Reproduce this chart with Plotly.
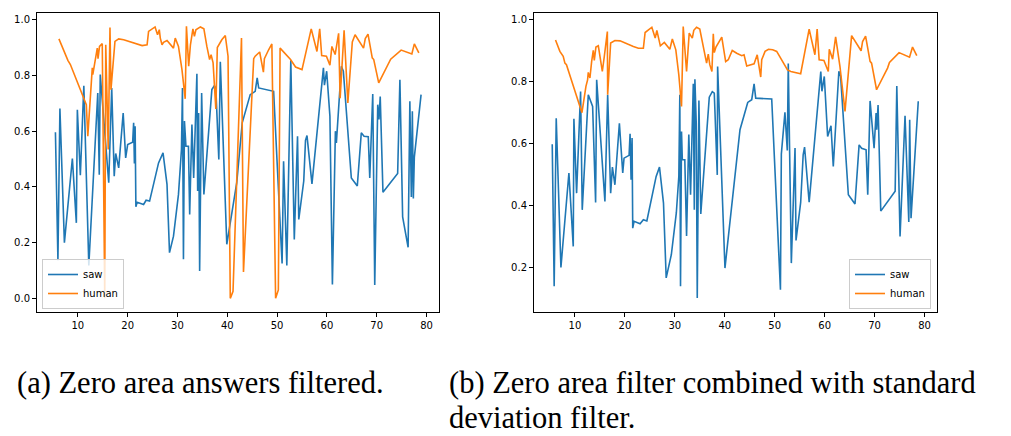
import plotly.graph_objects as go

# ---------------- data: (a) zero area answers filtered ----------------
saw_a_x = [5.5, 6.0, 6.4, 7.3, 8.9, 9.7, 9.9, 10.3, 10.5, 11.2,
           12.2, 14.0, 14.3, 14.5, 16.2, 16.8, 17.3, 17.6, 18.2, 19.1,
           19.6, 20.0, 21.0, 21.2, 21.35, 21.5, 21.65, 21.9, 23.2, 23.7,
           24.4, 26.2, 27.1, 27.9, 28.4, 29.2, 30.2, 30.8, 31.0, 31.2,
           31.4, 31.7, 32.2, 32.45, 32.9, 33.25, 33.9, 34.05, 34.25, 34.45,
           34.85, 35.3, 36.9, 37.4, 37.7, 38.3, 38.6, 39.9, 41.9, 43.0,
           44.6, 45.6, 46.0, 46.3, 49.3, 51.0, 51.3, 51.95, 52.75, 53.45,
           54.1, 54.35, 55.35, 55.7, 56.0, 57.0, 59.3, 59.5, 59.95, 60.6,
           61.1, 61.7, 61.9, 62.9, 63.3, 64.9, 66.1, 66.9, 67.45, 68.3,
           68.6, 69.2, 69.6, 70.2, 70.45, 70.7, 71.25, 74.2, 74.65, 75.2,
           76.3, 76.65, 76.95, 77.15, 77.35, 77.55, 78.9]
saw_a_y = [0.596, 0.137, 0.681, 0.200, 0.502, 0.271, 0.677, 0.520, 0.442, 0.763,
           0.118, 0.737, 0.444, 0.803, 0.415, 0.755, 0.438, 0.520, 0.468, 0.665,
           0.504, 0.552, 0.560, 0.630, 0.484, 0.618, 0.329, 0.345, 0.337, 0.352,
           0.349, 0.486, 0.522, 0.409, 0.164, 0.223, 0.373, 0.534, 0.755, 0.140,
           0.636, 0.546, 0.546, 0.301, 0.624, 0.432, 0.806, 0.385, 0.665, 0.098,
           0.737, 0.373, 0.749, 0.763, 0.755, 0.498, 0.849, 0.194, 0.415, 0.630,
           0.731, 0.743, 0.791, 0.755, 0.743, 0.125, 0.492, 0.118, 0.854, 0.211,
           0.582, 0.283, 0.421, 0.567, 0.584, 0.411, 0.827, 0.765, 0.815, 0.654,
           0.050, 0.600, 0.558, 0.833, 0.815, 0.432, 0.403, 0.594, 0.582, 0.580,
           0.432, 0.733, 0.048, 0.695, 0.642, 0.724, 0.381, 0.448, 0.784, 0.292,
           0.183, 0.707, 0.364, 0.671, 0.358, 0.507, 0.731]

human_a_x = [6.2, 7.2, 8.0, 8.5, 11.2, 11.7, 12.0, 12.9, 13.0, 13.55,
             13.9, 14.05, 14.35, 14.9, 15.4, 15.6, 16.1, 16.45, 16.65, 17.45,
             18.2, 19.2, 22.9, 23.9, 24.2, 25.5, 26.0, 26.35, 26.55, 26.9,
             27.2, 27.9, 28.6, 29.2, 29.55, 30.2, 30.9, 31.55, 31.8, 32.25,
             32.6, 33.1, 33.4, 33.7, 34.6, 35.3, 35.9, 36.45, 36.75, 37.15,
             37.7, 38.0, 38.9, 39.6, 40.15, 40.6, 41.15, 42.85, 43.25, 45.3,
             45.6, 46.5, 47.25, 47.45, 48.3, 48.95, 49.7, 50.25, 50.6, 52.7,
             53.7, 55.0, 56.85, 58.0, 58.55, 58.95, 59.9, 60.6, 61.0, 61.65,
             62.35, 62.65, 63.45, 64.2, 65.1, 65.65, 67.35, 67.7, 68.25, 69.1,
             69.4, 70.4, 72.8, 74.9, 77.05, 77.55, 78.45]
human_a_y = [0.931, 0.886, 0.854, 0.839, 0.713, 0.695, 0.582, 0.827, 0.803, 0.869,
             0.898, 0.860, 0.904, 0.914, 0.000, 0.910, 0.534, 0.972, 0.749, 0.922,
             0.931, 0.928, 0.907, 0.910, 0.958, 0.974, 0.946, 0.964, 0.934, 0.910,
             0.919, 0.925, 0.910, 0.898, 0.934, 0.904, 0.821, 0.716, 0.976, 0.833,
             0.910, 0.967, 0.940, 0.964, 0.974, 0.967, 0.904, 0.857, 0.874, 0.845,
             0.680, 0.900, 0.928, 0.943, 0.869, 0.000, 0.025, 0.934, 0.095, 0.860,
             0.869, 0.884, 0.812, 0.860, 0.892, 0.913, 0.000, 0.030, 0.898, 0.857,
             0.830, 0.821, 0.967, 0.886, 0.967, 0.871, 0.869, 0.837, 0.904, 0.875,
             0.951, 0.718, 0.962, 0.701, 0.920, 0.946, 0.898, 0.932, 0.948, 0.863,
             0.857, 0.773, 0.858, 0.891, 0.877, 0.913, 0.881]

# ------- data: (b) zero area filter + standard deviation filter -------
saw_b_x = [5.45, 5.84, 6.25, 7.19, 8.79, 9.66, 9.79, 10.12, 10.33, 11.13,
           11.46, 12.67, 13.54, 14.14, 14.35, 16.0, 16.55, 17.15, 17.5, 18.0,
           18.9, 19.57, 19.83, 20.84, 21.04, 21.24, 21.44, 21.57, 21.84, 23.04,
           23.7, 24.4, 26.26, 26.93, 27.73, 28.27, 29.3, 30.3, 30.8, 31.0,
           31.14, 31.34, 31.5, 32.0, 32.35, 32.8, 33.15, 33.7, 33.9, 34.02,
           34.29, 34.49, 34.82, 35.2, 36.9, 37.5, 37.9, 38.5, 38.57, 40.04,
           43.05, 44.6, 45.4, 45.87, 46.2, 49.4, 51.15, 51.33, 52.05, 52.52,
           52.72, 53.33, 54.07, 54.27, 55.2, 55.7, 55.98, 56.9, 59.23, 59.46,
           59.93, 60.6, 61.27, 61.73, 62.85, 63.2, 64.75, 66.08, 66.9, 67.4,
           68.3, 68.63, 69.1, 69.9, 70.3, 70.43, 70.7, 71.24, 74.12, 74.45,
           75.1, 76.1, 76.85, 77.03, 77.3, 78.75]
saw_b_y = [0.598, 0.139, 0.682, 0.200, 0.505, 0.268, 0.680, 0.524, 0.440, 0.768,
           0.386, 0.758, 0.720, 0.410, 0.806, 0.413, 0.758, 0.440, 0.524, 0.467,
           0.666, 0.505, 0.553, 0.562, 0.632, 0.483, 0.618, 0.327, 0.349, 0.341,
           0.354, 0.350, 0.494, 0.524, 0.408, 0.166, 0.241, 0.376, 0.494, 0.758,
           0.139, 0.639, 0.548, 0.548, 0.302, 0.629, 0.435, 0.793, 0.386, 0.808,
           0.666, 0.101, 0.739, 0.373, 0.750, 0.768, 0.763, 0.499, 0.849, 0.198,
           0.645, 0.733, 0.742, 0.793, 0.747, 0.744, 0.128, 0.566, 0.701, 0.578,
           0.859, 0.214, 0.586, 0.287, 0.410, 0.564, 0.589, 0.411, 0.833, 0.769,
           0.817, 0.623, 0.658, 0.526, 0.834, 0.817, 0.435, 0.405, 0.596, 0.585,
           0.580, 0.435, 0.738, 0.585, 0.699, 0.645, 0.725, 0.382, 0.446, 0.786,
           0.300, 0.690, 0.347, 0.677, 0.359, 0.737]

human_b_x = [6.11, 6.98, 7.65, 7.99, 8.3, 11.4, 12.2, 12.53, 12.67, 13.0,
             13.34, 13.67, 13.87, 14.2, 14.68, 15.48, 15.88, 16.49, 16.55, 17.15,
             18.0, 19.03, 21.7, 22.7, 23.7, 24.05, 25.4, 26.07, 26.4, 26.74,
             27.1, 27.9, 28.77, 29.0, 29.5, 30.2, 30.8, 31.34, 31.68, 32.35,
             32.88, 33.5, 33.8, 34.35, 35.0, 35.9, 36.36, 36.7, 37.0, 37.43,
             37.7, 37.9, 38.24, 39.4, 40.18, 40.7, 41.5, 42.4, 43.4, 43.86,
             44.4, 45.87, 46.5, 47.2, 47.4, 48.07, 48.75, 49.6, 50.4, 52.56,
             53.23, 55.2, 56.9, 58.05, 58.5, 58.9, 59.86, 60.73, 60.93, 61.6,
             62.2, 63.07, 64.08, 65.4, 67.3, 67.6, 68.2, 69.1, 69.4, 70.4,
             72.6, 72.98, 74.9, 77.0, 77.6, 78.45]
human_b_y = [0.935, 0.898, 0.882, 0.860, 0.855, 0.700, 0.785, 0.806, 0.830, 0.812,
             0.865, 0.901, 0.869, 0.912, 0.916, 0.833, 0.882, 0.962, 0.758, 0.925,
             0.933, 0.932, 0.914, 0.908, 0.908, 0.959, 0.976, 0.941, 0.966, 0.938,
             0.916, 0.927, 0.912, 0.905, 0.938, 0.903, 0.822, 0.720, 0.978, 0.833,
             0.957, 0.941, 0.966, 0.976, 0.970, 0.898, 0.860, 0.889, 0.855, 0.833,
             0.955, 0.894, 0.912, 0.944, 0.865, 0.871, 0.901, 0.892, 0.884, 0.887,
             0.851, 0.858, 0.887, 0.815, 0.871, 0.898, 0.905, 0.903, 0.898, 0.838,
             0.833, 0.826, 0.970, 0.887, 0.970, 0.871, 0.869, 0.833, 0.905, 0.873,
             0.945, 0.849, 0.704, 0.949, 0.900, 0.930, 0.947, 0.866, 0.860, 0.774,
             0.844, 0.862, 0.894, 0.879, 0.912, 0.884]

x_ticks = [10, 20, 30, 40, 50, 60, 70, 80]
y_ticks_a = [0.0, 0.2, 0.4, 0.6, 0.8, 1.0]
y_ticks_b = [0.2, 0.4, 0.6, 0.8, 1.0]
caption_a = "(a) Zero area answers filtered."
caption_b1 = "(b) Zero area filter combined with standard"
caption_b2 = "deviation filter."

BLUE = "#1f77b4"
ORANGE = "#ff7f0e"
W, H = 1011, 436

def px_x(p):
    return p / W

def px_y(p):
    return (H - p) / H

fig = go.Figure()
lw = 1.6
fig.add_trace(go.Scatter(x=saw_a_x, y=saw_a_y, mode="lines", name="saw",
                         line=dict(color=BLUE, width=lw), xaxis="x", yaxis="y",
                         legend="legend"))
fig.add_trace(go.Scatter(x=human_a_x, y=human_a_y, mode="lines", name="human",
                         line=dict(color=ORANGE, width=lw), xaxis="x", yaxis="y",
                         legend="legend"))
fig.add_trace(go.Scatter(x=saw_b_x, y=saw_b_y, mode="lines", name="saw",
                         line=dict(color=BLUE, width=lw), xaxis="x2", yaxis="y2",
                         legend="legend2"))
fig.add_trace(go.Scatter(x=human_b_x, y=human_b_y, mode="lines", name="human",
                         line=dict(color=ORANGE, width=lw), xaxis="x2", yaxis="y2",
                         legend="legend2"))

tickfont = dict(family="DejaVu Sans", size=10, color="black")
axis_common = dict(showline=True, linecolor="black", linewidth=1, mirror=True,
                   ticks="outside", ticklen=4, tickwidth=1, tickcolor="black",
                   showgrid=False, zeroline=False, tickfont=tickfont)

ydom = [px_y(312), px_y(13)]
legfont = dict(family="DejaVu Sans", size=10, color="black")
fig.update_layout(
    width=W, height=H,
    margin=dict(l=0, r=0, t=0, b=0),
    paper_bgcolor="white", plot_bgcolor="white",
    xaxis=dict(domain=[px_x(37), px_x(439)], range=[1.8, 82.5],
               tickvals=x_ticks, anchor="y", **axis_common),
    yaxis=dict(domain=ydom, range=[-0.049, 1.024], tickvals=y_ticks_a,
               tickformat=".1f", anchor="x", **axis_common),
    xaxis2=dict(domain=[px_x(534), px_x(937)], range=[1.8, 82.5],
                tickvals=x_ticks, anchor="y2", **axis_common),
    yaxis2=dict(domain=ydom, range=[0.056, 1.022], tickvals=y_ticks_b,
                tickformat=".1f", anchor="x2", **axis_common),
    legend=dict(x=px_x(42), y=px_y(309), xanchor="left", yanchor="bottom",
                bgcolor="rgba(255,255,255,0.8)", bordercolor="#cccccc",
                borderwidth=1, font=legfont, itemwidth=30, tracegroupgap=0),
    legend2=dict(x=px_x(931), y=px_y(309), xanchor="right", yanchor="bottom",
                 bgcolor="rgba(255,255,255,0.8)", bordercolor="#cccccc",
                 borderwidth=1, font=legfont, itemwidth=30, tracegroupgap=0),
    showlegend=True,
)

capfont = dict(family="Liberation Serif", size=30.5, color="black")
fig.add_annotation(text=caption_a, x=px_x(15), y=px_y(383), xref="paper", yref="paper",
                   xanchor="left", yanchor="middle", showarrow=False, font=capfont)
fig.add_annotation(text=caption_b1, x=px_x(447), y=px_y(383), xref="paper", yref="paper",
                   xanchor="left", yanchor="middle", showarrow=False, font=capfont)
fig.add_annotation(text=caption_b2, x=px_x(447), y=px_y(418), xref="paper", yref="paper",
                   xanchor="left", yanchor="middle", showarrow=False, font=capfont)

fig.write_html("out.html", config={"displayModeBar": False},
               post_script="document.body.style.margin='0px';document.body.style.overflow='hidden';")
